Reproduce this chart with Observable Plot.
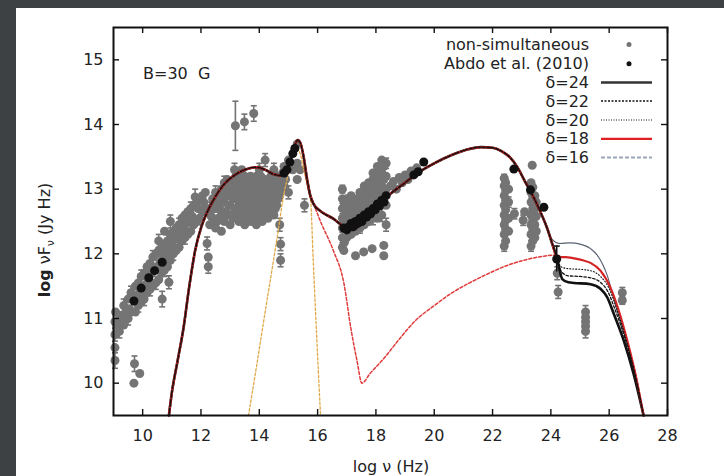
<!DOCTYPE html>
<html>
<head>
<meta charset="utf-8">
<script src="https://cdn.jsdelivr.net/npm/d3@7"></script>
<script src="https://cdn.jsdelivr.net/npm/@observablehq/plot@0.6"></script>
<style>
  html, body { margin: 0; padding: 0; }
  body { width: 724px; height: 476px; overflow: hidden; background: #3e4144; position: relative; }
  #panel { position: absolute; left: 16px; top: 8px; width: 708px; height: 468px; background: #ffffff; }
  #chart { position: absolute; left: 0; top: 0; }
  #anno { position: absolute; left: 0; top: 0; width: 724px; height: 476px; pointer-events: none; }
</style>
</head>
<body>
<div id="panel"></div>
<div id="chart"></div>
<svg id="anno" width="724" height="476"></svg>
<script>
// ---------- data ----------
const xTicks = [10, 12, 14, 16, 18, 20, 22, 24, 26, 28];
const yTicks = [10, 11, 12, 13, 14, 15];

// non-simultaneous archival data: [log nu, log nuFnu, error half-length]
const nonSimultaneous = [
  [9.05,10.35,0.12],[9.05,10.55,0],[9.05,10.75,0.1],[9.05,10.95,0],[9.07,11.1,0],
  [9.2,10.8,0.1],[9.2,11.05,0],[9.35,10.9,0],[9.35,11.2,0.1],
  [9.5,11.0,0.1],[9.5,11.3,0],[9.6,11.1,0],[9.6,11.4,0.1],
  [9.75,11.1,0],[9.75,11.5,0],[9.85,11.2,0.1],[9.85,11.55,0],
  [9.95,11.25,0],[9.95,11.65,0.1],[10.05,11.3,0.1],[10.05,11.7,0],
  [10.15,11.4,0],[10.15,11.8,0],[10.25,11.45,0.1],[10.25,11.85,0],
  [10.35,11.5,0],[10.35,11.95,0.1],[10.45,11.55,0.1],[10.45,12.0,0],
  [10.55,11.6,0],[10.55,12.05,0],[10.55,12.2,0.1],[10.65,11.7,0],[10.65,12.1,0],
  [10.75,11.75,0.1],[10.75,12.15,0],[10.75,12.35,0],[10.85,11.8,0],[10.85,12.2,0.1],
  [10.95,11.9,0],[10.95,12.3,0],[10.95,12.5,0.1],[11.05,12.0,0.1],[11.05,12.35,0],
  [11.15,12.05,0],[11.15,12.4,0],[11.25,12.1,0],[11.25,12.45,0.1],
  [11.35,12.2,0],[11.35,12.55,0],[11.45,12.25,0.1],[11.45,12.6,0],
  [11.55,12.3,0],[11.55,12.65,0],[11.65,12.35,0],[11.65,12.7,0.1],
  [11.75,12.45,0],[11.75,12.75,0],[11.8,12.88,0.12],[11.85,12.5,0],[11.85,12.8,0],
  [11.95,12.55,0.1],[11.95,12.85,0],[12.05,12.65,0],[12.05,12.9,0],
  [12.15,12.7,0.1],[12.15,12.95,0],
  [9.12,10.9,0],[9.28,11.0,0],[9.42,11.1,0],[9.55,11.15,0],[9.68,11.3,0],[9.8,11.35,0],
  [9.9,11.4,0],[10.0,11.5,0],[10.1,11.52,0],[10.2,11.6,0],[10.3,11.7,0],[10.4,11.75,0],
  [10.5,11.8,0],[10.6,11.88,0],[10.7,11.95,0],[10.8,12.0,0],[10.9,12.1,0],[11.0,12.15,0],
  [11.1,12.22,0],[11.2,12.28,0],[11.3,12.35,0],[11.4,12.4,0],[11.5,12.47,0],[11.6,12.52,0],
  [11.7,12.58,0],[11.9,12.7,0],[12.1,12.8,0],
  [9.7,10.0,0],[9.72,10.3,0.12],[9.9,10.15,0],[10.67,11.3,0.12],[10.9,11.56,0.1],
  [12.25,11.8,0.1],[12.25,11.95,0],[12.21,12.16,0.1],
  [12.3,12.45,0],[12.3,12.7,0.1],[12.4,12.55,0],[12.4,12.85,0],
  [12.5,12.4,0],[12.5,12.7,0],[12.5,12.95,0.1],[12.6,12.55,0],[12.6,12.85,0],
  [12.7,12.35,0],[12.7,12.65,0],[12.7,13.0,0],[12.8,12.5,0],[12.8,12.8,0],[12.8,13.1,0.1],
  [12.9,12.6,0],[12.9,12.9,0],[12.9,13.15,0],[13.0,12.45,0],[13.0,12.75,0],[13.0,13.0,0],
  [13.1,12.55,0],[13.1,12.85,0],[13.1,13.1,0],[13.15,13.3,0.1],
  [13.2,12.7,0],[13.2,12.95,0],[13.2,13.2,0],[13.3,12.5,0],[13.3,12.8,0],[13.3,13.05,0],
  [13.4,12.65,0],[13.4,12.9,0],[13.4,13.15,0],[13.4,13.3,0],
  [13.5,12.45,0],[13.5,12.75,0],[13.5,13.0,0],[13.5,13.2,0],
  [13.6,12.6,0],[13.6,12.85,0],[13.6,13.1,0],
  [13.7,12.5,0],[13.7,12.75,0],[13.7,12.95,0],[13.7,13.2,0],
  [13.8,12.65,0],[13.8,12.9,0],[13.8,13.1,0],
  [13.9,12.45,0],[13.9,12.7,0],[13.9,12.95,0],[13.9,13.2,0],
  [14.0,12.6,0],[14.0,12.85,0],[14.0,13.05,0],[14.0,13.3,0.1],
  [14.1,12.5,0],[14.1,12.75,0],[14.1,13.0,0],
  [14.2,12.65,0],[14.2,12.9,0],[14.2,13.15,0],[14.2,13.45,0.1],
  [14.3,12.55,0],[14.3,12.8,0],[14.3,13.05,0],
  [14.4,12.7,0],[14.4,12.95,0],[14.4,13.2,0],
  [14.5,12.6,0],[14.5,12.85,0],[14.5,13.1,0],[14.5,13.3,0.1],
  [14.6,12.75,0],[14.6,13.0,0],[14.6,13.2,0],
  [14.7,12.9,0],[14.7,13.15,0],[14.7,12.45,0.1],
  [12.35,12.58,0],[12.45,12.7,0],[12.55,12.5,0],[12.55,12.8,0],[12.65,12.7,0],[12.75,12.55,0],
  [12.75,12.9,0],[12.85,12.65,0],[12.85,13.0,0],[12.95,12.75,0],[12.95,13.05,0],[13.05,12.6,0],
  [13.05,12.9,0],[13.15,12.7,0],[13.15,13.0,0],[13.25,12.6,0],[13.25,12.85,0],[13.25,13.1,0],
  [13.35,12.7,0],[13.35,12.95,0],[13.35,13.2,0],[13.45,12.55,0],[13.45,12.85,0],[13.45,13.1,0],
  [13.55,12.65,0],[13.55,12.9,0],[13.65,12.55,0],[13.65,12.8,0],[13.65,13.05,0],[13.75,12.6,0],
  [13.75,12.85,0],[13.75,13.1,0],[13.85,12.55,0],[13.85,12.8,0],[13.85,13.0,0],[13.95,12.6,0],
  [13.95,12.85,0],[13.95,13.1,0],[14.05,12.7,0],[14.05,12.95,0],[14.05,13.2,0],[14.15,12.6,0],
  [14.15,12.85,0],[14.15,13.1,0],[14.25,12.7,0],[14.25,12.95,0],[14.35,12.65,0],[14.35,12.9,0],
  [14.35,13.15,0],[14.45,12.75,0],[14.45,13.0,0],[14.55,12.7,0],[14.55,12.95,0],[14.55,13.2,0],
  [14.65,12.85,0],[14.65,13.1,0],[14.8,13.0,0],[14.8,13.25,0],[14.9,13.15,0],
  [14.73,12.15,0.1],[14.73,11.9,0.1],
  [14.85,13.05,0],[14.85,13.35,0],[15.0,12.95,0.1],[15.0,13.45,0],
  [15.15,13.3,0],[15.3,13.7,0],[15.3,13.4,0],[15.3,13.15,0],[15.4,13.3,0],
  [15.55,12.75,0.1],
  [13.18,13.98,0.38],[13.49,14.04,0.12],[13.81,14.17,0.12],
  [16.85,12.1,0],[16.85,12.25,0.08],[16.85,12.4,0],[16.85,12.55,0],[16.85,12.7,0.08],[16.85,12.85,0],[16.85,13.0,0.06],
  [17.0,12.25,0],[17.0,12.45,0],[17.0,12.65,0.08],[17.0,12.85,0],
  [17.15,12.3,0],[17.15,12.5,0.08],[17.15,12.7,0],[17.15,12.9,0],
  [17.3,12.35,0],[17.3,12.55,0],[17.3,12.75,0.08],
  [17.45,12.4,0.08],[17.45,12.6,0],[17.45,12.8,0],[17.45,12.95,0],
  [17.6,12.45,0],[17.6,12.65,0.08],[17.6,12.85,0],[17.6,13.05,0],
  [17.75,12.5,0],[17.75,12.7,0],[17.75,12.9,0.08],[17.75,13.1,0],
  [17.9,12.55,0.1],[17.9,12.75,0],[17.9,12.95,0],[17.9,13.15,0],[17.9,13.25,0],
  [18.05,12.55,0],[18.05,12.8,0],[18.05,13.0,0.08],[18.05,13.2,0],[18.05,13.35,0],
  [18.2,12.6,0.1],[18.2,12.85,0],[18.2,13.05,0],[18.2,13.25,0],[18.2,13.45,0],
  [18.35,12.45,0.1],[18.35,12.75,0],[18.35,13.0,0],[18.35,13.2,0],[18.35,13.4,0.08],
  [16.92,12.18,0],[16.92,12.48,0],[16.92,12.78,0],[17.07,12.35,0],[17.07,12.55,0],[17.07,12.75,0],
  [17.22,12.4,0],[17.22,12.6,0],[17.22,12.8,0],[17.37,12.45,0],[17.37,12.65,0],[17.37,12.85,0],
  [17.52,12.7,0],[17.52,12.9,0],[17.67,12.75,0],[17.67,12.95,0],[17.82,12.8,0],[17.82,13.0,0],
  [17.97,12.85,0],[17.97,13.1,0],[18.12,12.9,0],[18.12,13.15,0],[18.12,13.3,0],[18.27,12.95,0],
  [18.27,13.15,0],[18.27,13.35,0],
  [16.9,12.05,0],[17.3,11.97,0],[17.58,12.03,0],[17.87,12.08,0],[18.27,12.13,0],[18.27,11.97,0],
  [18.5,13.05,0],[18.6,13.12,0],[18.7,13.0,0],[18.8,13.18,0],[18.9,13.1,0],
  [19.0,13.22,0],[19.1,13.15,0],[19.2,13.28,0],[19.3,13.25,0],[19.4,13.33,0],
  [22.4,12.12,0.08],[22.4,12.3,0],[22.4,12.45,0],[22.4,12.6,0],[22.4,12.75,0],[22.4,12.9,0],[22.4,13.05,0],[22.4,13.17,0.06],
  [22.45,12.2,0],[22.45,12.38,0],[22.45,12.52,0],[22.45,12.68,0],[22.45,12.83,0],[22.45,12.98,0],[22.45,13.1,0],
  [22.55,12.35,0],[22.55,12.55,0],[22.55,12.8,0.08],[22.55,13.0,0],
  [22.75,12.62,0.08],[23.05,12.52,0.08],[23.1,12.65,0],
  [23.32,12.12,0.08],[23.32,12.3,0],[23.32,12.45,0],[23.32,12.6,0],[23.32,12.8,0],[23.32,12.95,0],[23.32,13.1,0],
  [23.38,12.2,0],[23.38,12.38,0],[23.38,12.52,0],[23.38,12.7,0],[23.38,12.88,0],[23.38,13.03,0],
  [23.45,12.25,0],[23.45,12.45,0.08],[23.45,12.7,0],[23.45,12.9,0],[23.5,12.35,0],[23.5,12.58,0],[23.5,12.8,0],
  [23.36,13.37,0],
  [24.22,11.7,0.1],[24.25,11.41,0.1],
  [25.19,11.1,0.1],[25.19,10.95,0.1],[25.19,10.8,0.1],[25.19,11.02,0],[25.19,10.88,0],
  [26.45,11.4,0.08],[26.45,11.28,0.06]
];

// Abdo et al. (2010) simultaneous data: [log nu, log nuFnu, error half-length]
const abdo = [
  [9.7,11.27,0],[9.95,11.47,0],[10.21,11.63,0],[10.41,11.74,0],[10.67,11.87,0],
  [14.85,13.25,0],[14.95,13.3,0],[15.05,13.42,0],[15.15,13.55,0],[15.22,13.63,0],
  [16.9,12.4,0],[17.0,12.37,0],[17.08,12.42,0],[17.15,12.47,0],[17.22,12.42,0],
  [17.3,12.5,0],[17.38,12.47,0],[17.45,12.55,0],[17.52,12.5,0],[17.6,12.6,0],
  [17.68,12.57,0],[17.75,12.65,0],[17.82,12.62,0],[17.9,12.7,0],[17.98,12.68,0],
  [18.05,12.77,0],[18.12,12.74,0],[18.2,12.83,0],[18.28,12.8,0],[18.35,12.9,0],
  [19.3,13.22,0],[19.45,13.27,0],[19.64,13.42,0],
  [22.73,13.31,0],[23.3,12.99,0],[23.76,12.72,0],[24.2,11.92,0.2]
];

// common part of the model curves
const mainX = [10.9,11.0,11.2,11.4,11.6,11.8,12.0,12.2,12.45,12.8,13.1,13.5,13.9,14.2,14.5,14.78,14.95,15.1,15.22,15.32,15.42,15.52,15.64,15.75,15.85,16.1,16.55,16.8,17.05,17.2,17.45,17.7,18.0,18.5,19.0,19.4,20.0,20.56,21.1,21.6,22.0,22.3,22.6,22.85,23.1,23.4,23.65,23.87];
const mainY = [9.5,9.85,10.35,10.85,11.5,12.05,12.4,12.63,12.85,13.08,13.2,13.3,13.34,13.3,13.23,13.21,13.3,13.5,13.68,13.76,13.7,13.5,13.15,12.9,12.78,12.66,12.54,12.45,12.38,12.37,12.45,12.58,12.73,12.93,13.1,13.24,13.4,13.52,13.61,13.65,13.64,13.59,13.49,13.34,13.13,12.88,12.64,12.4];

// high-energy tails for each Doppler factor
const tail24X = [24.05,24.2,24.39,24.6,24.79,25.36,25.7,25.93,26.16,26.5,26.84,27.18];
const tail24Y = [12.15,11.95,11.61,11.56,11.55,11.53,11.46,11.33,11.07,10.66,10.14,9.5];
const tail22X = [24.05,24.2,24.37,24.6,25.0,25.36,25.7,25.95,26.2,26.55,26.87,27.18];
const tail22Y = [12.15,11.95,11.72,11.66,11.65,11.63,11.56,11.42,11.14,10.68,10.15,9.5];
const tail20X = [24.05,24.2,24.35,24.6,25.0,25.36,25.7,25.98,26.25,26.58,26.88,27.18];
const tail20Y = [12.15,11.95,11.8,11.77,11.76,11.74,11.65,11.48,11.16,10.68,10.15,9.5];
const tail18X = [24.05,24.2,24.5,24.79,25.1,25.36,25.7,26.04,26.33,26.62,26.9,27.18];
const tail18Y = [12.15,11.95,11.95,11.93,11.9,11.86,11.74,11.48,11.12,10.66,10.14,9.5];
const tail16X = [24.05,24.3,24.67,25.0,25.36,25.59,25.93,26.27,26.62,26.96,27.18];
const tail16Y = [12.22,12.16,12.17,12.15,12.08,11.98,11.67,11.12,10.61,10.04,9.5];

// separate components
const compX = [15.8,16.1,16.54,16.9,17.14,17.35,17.52,17.8,18.25,18.8,19.36,20.0,20.62,21.25,21.88,22.5,23.15,23.7,24.1,24.3];
const compY = [12.85,12.5,12.05,11.55,10.85,10.35,10.0,10.15,10.37,10.68,10.97,11.2,11.4,11.56,11.7,11.82,11.91,11.96,11.98,11.97];
const diskX = [13.63,13.92,14.2,14.47,14.68,14.8,14.95,15.1,15.25,15.4,15.55,15.68,15.76,15.85,15.95,16.1];
const diskY = [9.5,10.3,11.1,11.85,12.45,12.82,13.15,13.45,13.65,13.55,13.25,12.98,12.82,11.9,10.9,9.5];

const legendLabels = ["non-simultaneous", "Abdo et al. (2010)", "δ=24", "δ=22", "δ=20", "δ=18", "δ=16"];

// ---------- build tables ----------
const toPts = (xs, ys) => xs.map((x, i) => ({x, y: ys[i]}));
const series = (tx, ty) => toPts(mainX, mainY).concat(toPts(tx, ty));
const d24 = series(tail24X, tail24Y);
const d22 = series(tail22X, tail22Y);
const d20 = series(tail20X, tail20Y);
const d18 = series(tail18X, tail18Y);
const d16 = toPts(mainX, mainY).concat(toPts(tail16X, tail16Y));
const comp = toPts(compX, compY);
const disk = toPts(diskX, diskY);
const ns = nonSimultaneous.map(([x, y, e]) => ({x, y, e}));
const ab = abdo.map(([x, y, e]) => ({x, y, e}));
const nsErr = ns.filter(d => d.e > 0);
const abErr = ab.filter(d => d.e > 0);

const cap = {draw(ctx, size) { const r = Math.sqrt(size / Math.PI); ctx.moveTo(-r, 0); ctx.lineTo(r, 0); }};

const GRAY = "#747474";
const INK = "#111111";
const W = 724, H = 476, ML = 113, MR = 57, MT = 27, MB = 61;
const innerW = W - ML - MR, innerH = H - MT - MB;

const chart = Plot.plot({
  width: W, height: H,
  marginLeft: ML, marginRight: MR, marginTop: MT, marginBottom: MB,
  x: {domain: [9, 28]},
  y: {domain: [9.5, 15.5]},
  style: {fontFamily: "DejaVu Sans, sans-serif", fontSize: "16px", background: "transparent", color: "#222"},
  marks: [
    Plot.ruleX(nsErr, {x: "x", y1: d => d.y - d.e, y2: d => d.y + d.e, stroke: GRAY, strokeWidth: 1.6}),
    Plot.dot(nsErr, {x: "x", y: d => d.y + d.e, symbol: cap, r: 3, stroke: GRAY, strokeWidth: 1.6, fill: "none"}),
    Plot.dot(nsErr, {x: "x", y: d => d.y - d.e, symbol: cap, r: 3, stroke: GRAY, strokeWidth: 1.6, fill: "none"}),
    Plot.dot(ns, {x: "x", y: "y", r: 4.5, fill: GRAY, stroke: "none"}),
    Plot.line(disk, {x: "x", y: "y", stroke: "#e0a948", strokeWidth: 1.3, strokeDasharray: "2.5,2", curve: "monotone-x"}),
    Plot.line(comp, {x: "x", y: "y", stroke: "#e03a3a", strokeWidth: 1.5, strokeDasharray: "3,2", curve: "monotone-x"}),
    Plot.line(d16, {x: "x", y: "y", stroke: "#5a6270", strokeWidth: 1.1, curve: "monotone-x"}),
    Plot.line(d24, {x: "x", y: "y", stroke: INK, strokeWidth: 2.6, curve: "monotone-x"}),
    Plot.line(d18, {x: "x", y: "y", stroke: "#d42424", strokeWidth: 2.2, curve: "monotone-x"}),
    Plot.line(d22, {x: "x", y: "y", stroke: INK, strokeWidth: 1.3, strokeDasharray: "2.5,2", curve: "monotone-x"}),
    Plot.line(d20, {x: "x", y: "y", stroke: INK, strokeWidth: 1.1, strokeDasharray: "1,2", curve: "monotone-x"}),
    Plot.ruleX(abErr, {x: "x", y1: d => d.y - d.e, y2: d => d.y + d.e, stroke: INK, strokeWidth: 1.6}),
    Plot.dot(abErr, {x: "x", y: d => d.y + d.e, symbol: cap, r: 3, stroke: INK, strokeWidth: 1.6, fill: "none"}),
    Plot.dot(ab, {x: "x", y: "y", r: 4.5, fill: INK, stroke: "none"}),
    Plot.frame({stroke: INK, strokeWidth: 2}),
    Plot.tickX(xTicks, {x: d => d, insetTop: innerH - 6, stroke: INK, strokeWidth: 1.4}),
    Plot.tickX(xTicks, {x: d => d, insetBottom: innerH - 6, stroke: INK, strokeWidth: 1.4}),
    Plot.tickY(yTicks, {y: d => d, insetRight: innerW - 6, stroke: INK, strokeWidth: 1.4}),
    Plot.tickY(yTicks, {y: d => d, insetLeft: innerW - 6, stroke: INK, strokeWidth: 1.4}),
    Plot.axisX(xTicks, {anchor: "bottom", tickSize: 0, tickPadding: 14, label: null, tickFormat: "d"}),
    Plot.axisY(yTicks, {anchor: "left", tickSize: 0, tickPadding: 10, label: null, tickFormat: "d"})
  ]
});

document.getElementById("chart").appendChild(chart);

// ---------- annotations, axis titles, legend (separate overlay svg) ----------
const svg = d3.select("#anno");
const ff = "DejaVu Sans, sans-serif";

svg.append("text").attr("x", 143).attr("y", 73).attr("dy", "0.35em")
  .attr("text-anchor", "start").attr("font-family", ff).attr("font-size", 16).attr("fill", "#222")
  .attr("xml:space", "preserve").text("B=30  G");

svg.append("text").attr("x", 391).attr("y", 466).attr("dy", "0.35em")
  .attr("text-anchor", "middle").attr("font-family", ff).attr("font-size", 16).attr("fill", "#222")
  .text("log ν (Hz)");

const yl = svg.append("text").attr("transform", "translate(50,240) rotate(-90)")
  .attr("text-anchor", "middle").attr("font-family", ff).attr("font-size", 16).attr("fill", "#222");
yl.append("tspan").attr("font-weight", "bold").text("log");
yl.append("tspan").text(" νF");
yl.append("tspan").attr("font-size", 11).attr("dy", 4).text("ν");
yl.append("tspan").attr("dy", -4).text(" (Jy Hz)");

const legendY = [44.6, 63.7, 82.5, 101, 120, 138.8, 157.5];
const lg = svg.append("g").attr("font-family", ff).attr("font-size", 16).attr("fill", "#222");
legendLabels.forEach((t, i) => {
  lg.append("text").attr("x", 589).attr("y", legendY[i]).attr("dy", "0.35em")
    .attr("text-anchor", "end").text(t);
});
lg.append("circle").attr("cx", 629).attr("cy", legendY[0]).attr("r", 2.5).attr("fill", GRAY);
lg.append("circle").attr("cx", 629).attr("cy", legendY[1]).attr("r", 2.5).attr("fill", INK);
const legendStyles = [
  {stroke: "#333", w: 2.6, dash: null},
  {stroke: INK, w: 1.5, dash: "2,1.5"},
  {stroke: INK, w: 1.1, dash: "1,1.5"},
  {stroke: "#e02020", w: 2.2, dash: null},
  {stroke: "#9aa5b8", w: 2, dash: "4,2"}
];
legendStyles.forEach((s, i) => {
  const l = lg.append("line").attr("x1", 601).attr("x2", 652)
    .attr("y1", legendY[i + 2]).attr("y2", legendY[i + 2])
    .attr("stroke", s.stroke).attr("stroke-width", s.w);
  if (s.dash) l.attr("stroke-dasharray", s.dash);
});
</script>
</body>
</html>
